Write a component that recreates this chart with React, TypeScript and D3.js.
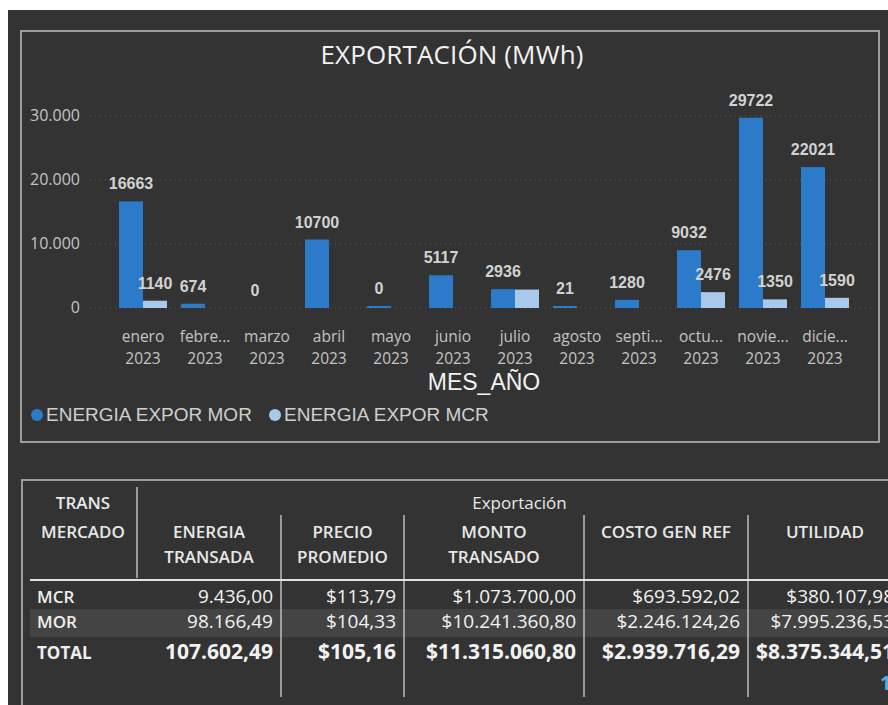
import React from 'react';
import * as d3 from 'd3';

// chart data
const months = ['enero', 'febre...', 'marzo', 'abril', 'mayo', 'junio', 'julio', 'agosto', 'septi...', 'octu...', 'novie...', 'dicie...'];
const year = '2023';
const energiaMor = [16663, 674, 0, 10700, 0.3, 5117, 2936, 21, 1280, 9032, 29722, 22021];
const energiaMcr: (number | null)[] = [1140, null, null, null, null, null, 2880, null, null, 2476, 1350, 1590];
const yTicks = [0, 10000, 20000, 30000];
const seriesNames = ['ENERGIA EXPOR MOR', 'ENERGIA EXPOR MCR'];
const seriesColors = ['#2b7bca', '#a8c9ea'];

// table data
const mercados = ['MCR', 'MOR', 'TOTAL'];
const energiaTransada = [9436.0, 98166.49, 107602.49];
const precioPromedio = [113.79, 104.33, 105.16];
const montoTransado = [1073700.0, 10241360.8, 11315060.8];
const costoGenRef = [693592.02, 2246124.26, 2939716.29];
const utilidad = [380107.98, 7995236.53, 8375344.51];
const columnHeaders = [['ENERGIA', 'TRANSADA'], ['PRECIO', 'PROMEDIO'], ['MONTO', 'TRANSADO'], ['COSTO GEN REF'], ['UTILIDAD']];

const locale = d3.formatLocale({ decimal: ',', thousands: '.', grouping: [3], currency: ['$', ''] });
const fmtTick = locale.format(',.0f');
const fmtNum = locale.format(',.2f');
const fmtMoney = locale.format('$,.2f');
const fmtLabel = d3.format('.0f');

const SEGOE = '"Open Sans", "Noto Sans", sans-serif';
const ARIAL = '"Liberation Sans", Arial, sans-serif';

const App = () => {
  const x = d3.scaleBand<string>().domain(months).range([112, 856]).paddingInner(0.226).paddingOuter(0.113);
  const inner = d3.scaleBand<string>().domain(['MOR', 'MCR']).range([0, x.bandwidth()]);
  const y = d3.scaleLinear().domain([0, 30000]).range([308, 116]);

  // bars + labels (a label that collides with an earlier one is hidden)
  const bars: any[] = [];
  const labels: any[] = [];
  const placed: { x0: number; x1: number; y0: number; y1: number }[] = [];
  const series = [energiaMor, energiaMcr];
  months.forEach((m, i) => {
    series.forEach((s, si) => {
      const v = s[i];
      if (v === null || v === undefined) return;
      const key = si === 0 ? 'MOR' : 'MCR';
      const bx = (x(m) || 0) + (inner(key) || 0);
      const bw = inner.bandwidth();
      let h = y(0) - y(v);
      if (v > 0 && h < 2) h = 2;
      if (h > 0) bars.push({ key: `${m}-${key}`, x: bx, y: y(0) - h, w: bw, h, fill: seriesColors[si] });
      const txt = fmtLabel(v);
      const cx = bx + bw / 2;
      const base = y(0) - h - 12;
      const tw = txt.length * 9;
      const box = { x0: cx - tw / 2, x1: cx + tw / 2, y0: base - 12, y1: base };
      const hit = placed.some(p => box.x0 < p.x1 && box.x1 > p.x0 && box.y0 < p.y1 && box.y1 > p.y0);
      if (!hit) {
        placed.push(box);
        labels.push({ key: `${m}-${key}-l`, x: cx, y: base, txt });
      }
    });
  });

  // table columns
  const colEdges = [30, 137, 281, 404, 584, 748, 902];
  const colData = [energiaTransada, precioPromedio, montoTransado, costoGenRef, utilidad];
  const colFmt = [fmtNum, fmtMoney, fmtMoney, fmtMoney, fmtMoney];
  const rowBase = [603, 628, 659];

  return (
    <svg width={888} height={705} style={{ position: 'absolute', left: 0, top: 0, display: 'block' }}>
      <rect x={8} y={10} width={880} height={695} fill="#333333" />

      {/* chart card */}
      <rect x={21} y={31} width={858} height={411} fill="none" stroke="#9c9c9c" strokeWidth={2} />
      <text x={452} y={64} textAnchor="middle" fill="#f2f2f2" fontFamily={SEGOE} fontSize={26} textLength={263}>EXPORTACIÓN (MWh)</text>

      {yTicks.map(t => (
        <g key={t}>
          <line x1={90} x2={873} y1={y(t)} y2={y(t)} stroke="#5e5e5e" strokeDasharray="1,4" />
          <text x={80} y={y(t) + 5} textAnchor="end" fill="#c4c4c4" fontFamily={SEGOE} fontSize={16}>{fmtTick(t)}</text>
        </g>
      ))}

      {bars.map(b => (
        <rect key={b.key} x={b.x} y={b.y} width={b.w} height={b.h} fill={b.fill} />
      ))}
      {labels.map(l => (
        <text key={l.key} x={l.x} y={l.y} textAnchor="middle" fill="#d2d2d2" fontFamily={ARIAL} fontWeight="bold" fontSize={16}>{l.txt}</text>
      ))}

      {months.map(m => (
        <text key={m} x={(x(m) || 0) + x.bandwidth() / 2} textAnchor="middle" fill="#c4c4c4" fontFamily={SEGOE} fontSize={15.5}>
          <tspan x={(x(m) || 0) + x.bandwidth() / 2} y={342}>{m}</tspan>
          <tspan x={(x(m) || 0) + x.bandwidth() / 2} y={364}>{year}</tspan>
        </text>
      ))}
      <text x={484} y={390} textAnchor="middle" fill="#f2f2f2" fontFamily={ARIAL} fontSize={23}>MES_AÑO</text>

      {/* legend */}
      <circle cx={37} cy={415} r={6} fill={seriesColors[0]} />
      <text x={46} y={421} fill="#cfcfcf" fontFamily={ARIAL} fontSize={19}>{seriesNames[0]}</text>
      <circle cx={275} cy={415} r={6} fill={seriesColors[1]} />
      <text x={284} y={421} fill="#cfcfcf" fontFamily={ARIAL} fontSize={19}>{seriesNames[1]}</text>

      {/* table card */}
      <rect x={22} y={480} width={900} height={240} fill="none" stroke="#9c9c9c" strokeWidth={2} />
      <rect x={30} y={609} width={870} height={28} fill="#444444" />

      <text x={83} y={509} textAnchor="middle" fill="#e8e8e8" fontFamily={SEGOE} fontSize={17} fontWeight={600}>TRANS</text>
      <text x={83} y={538} textAnchor="middle" fill="#e8e8e8" fontFamily={SEGOE} fontSize={17} fontWeight={600}>MERCADO</text>
      <text x={(colEdges[1] + colEdges[6]) / 2} y={509} textAnchor="middle" fill="#e8e8e8" fontFamily={SEGOE} fontSize={17}>Exportación</text>
      {columnHeaders.map((h, ci) => (
        <text key={ci} textAnchor="middle" fill="#e8e8e8" fontFamily={SEGOE} fontSize={17} fontWeight={600}>
          {h.map((line, li) => (
            <tspan key={li} x={(colEdges[ci + 1] + colEdges[ci + 2]) / 2} y={538 + li * 25}>{line}</tspan>
          ))}
        </text>
      ))}

      <line x1={137} x2={137} y1={487} y2={578} stroke="#bdbdbd" strokeWidth={1.5} />
      {colEdges.slice(2, 6).map(e => (
        <line key={e} x1={e} x2={e} y1={515} y2={697} stroke="#bdbdbd" strokeWidth={1.5} />
      ))}
      <line x1={30} x2={888} y1={580} y2={580} stroke="#e0e0e0" strokeWidth={2} />

      {mercados.map((r, ri) => (
        <g key={r}>
          <text x={37} y={rowBase[ri]} fill="#eeeeee" fontFamily={SEGOE} fontSize={17} fontWeight={ri === 2 ? 'bold' : 600}>{r}</text>
          {colData.map((col, ci) => (
            <text key={ci} x={colEdges[ci + 2] - 8} y={rowBase[ri]} textAnchor="end" fill="#f2f2f2" fontFamily={SEGOE}
              fontSize={ri === 2 ? 21 : 19} fontWeight={ri === 2 ? 'bold' : 500}>{colFmt[ci](col[ri])}</text>
          ))}
        </g>
      ))}
      <text x={880} y={690} fill="#4bb4d8" fontFamily={SEGOE} fontSize={20} fontWeight="bold">1</text>
    </svg>
  );
};

export default App;
